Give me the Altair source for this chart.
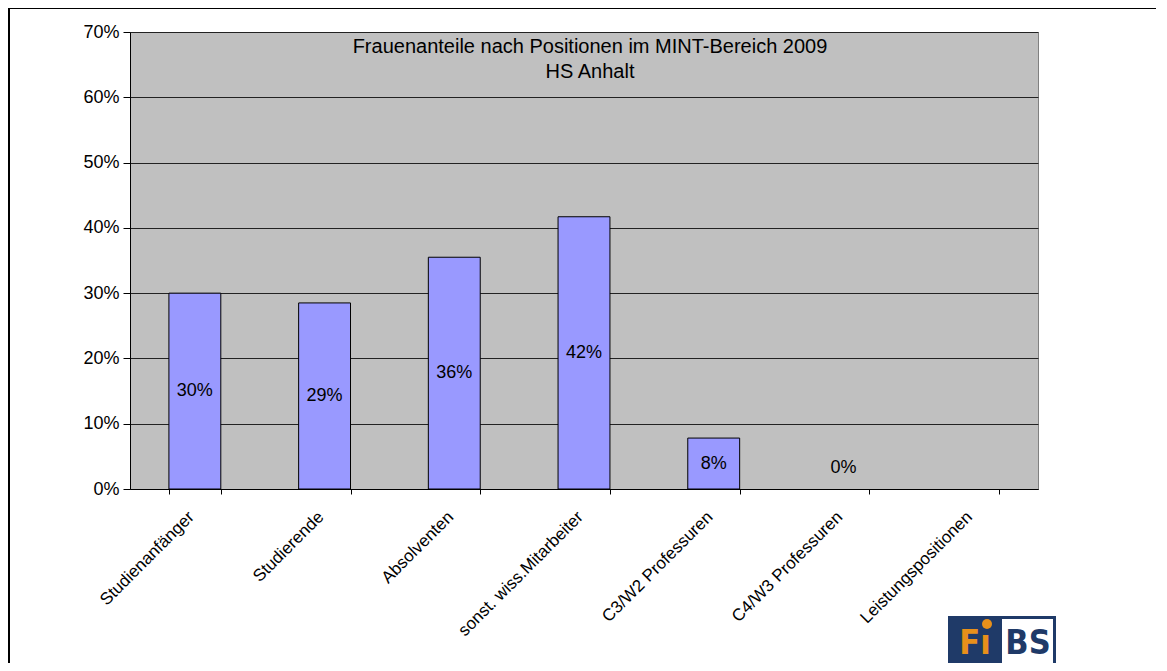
import altair as alt
import pandas as pd

categories = ["Studienanfänger", "Studierende", "Absolventen", "sonst. wiss.Mitarbeiter",
              "C3/W2 Professuren", "C4/W3 Professuren", "Leistungspositionen"]
values = [0.30, 0.285, 0.355, 0.417, 0.078, 0.0, None]
labels = ["30%", "29%", "36%", "42%", "8%", "0%", ""]
title_lines = ["Frauenanteile nach Positionen im MINT-Bereich 2009", "HS Anhalt"]

df = pd.DataFrame({"cat": categories, "v": values, "lab": labels})

W, H = 908, 457
FONT = "Liberation Sans"

xscale = alt.Scale(domain=categories, paddingInner=0.6, paddingOuter=0.3)
xenc = alt.X("cat:N", sort=categories, title=None, scale=xscale,
             axis=alt.Axis(labelAngle=-45, labelAlign="right", labelBaseline="middle",
                           labelPadding=20, labelOffset=-4, labelFontSize=17, labelFont=FONT,
                           labelColor="black", tickBand="extent", tickColor="black", tickSize=5,
                           domainColor="black", labelLimit=300))
yenc = alt.Y("v:Q", title=None, scale=alt.Scale(domain=[0, 0.7]),
             axis=alt.Axis(format=".0%", values=[0, 0.1, 0.2, 0.3, 0.4, 0.5, 0.6, 0.7],
                           labelFontSize=18, labelFont=FONT, labelColor="black",
                           tickColor="black", tickSize=7, labelPadding=4,
                           domainColor="black", grid=True, gridColor="#222222",
                           gridWidth=1))

base = alt.Chart(df)

bars = base.transform_filter("datum.v != null && datum.v > 0").mark_bar(
    color="#9999FF", stroke="black", strokeWidth=1).encode(x=xenc, y=yenc)

texts = base.transform_filter("datum.v != null").transform_calculate(
    mid="max(datum.v / 2, 0.032)").mark_text(
    font=FONT, fontSize=18, color="black").encode(
    x=alt.X("cat:N", sort=categories, scale=xscale), y=alt.Y("mid:Q"), text="lab:N")

tdf = pd.DataFrame({"t": ["\n".join(title_lines)]})
title = alt.Chart(tdf).mark_text(font=FONT, fontSize=20, color="black", baseline="middle",
                                 lineBreak="\n", lineHeight=25).encode(
    x=alt.value(W / 2 + 6), y=alt.value(15), text="t:N")

# outer frame (top + left)
frame_top = alt.Chart(pd.DataFrame({"a": [0]})).mark_rule(color="black", strokeWidth=2).encode(
    x=alt.value(-122), x2=alt.value(W + 140), y=alt.value(-24))
frame_left = alt.Chart(pd.DataFrame({"a": [0]})).mark_rule(color="black", strokeWidth=2).encode(
    x=alt.value(-121), y=alt.value(-25), y2=alt.value(H + 200))

# logo
NAVY = "#1F3A68"
ORANGE = "#E8901A"
logo_bg = alt.Chart(pd.DataFrame({"a": [0]})).mark_rect(color=NAVY).encode(
    x=alt.value(818), x2=alt.value(926), y=alt.value(584), y2=alt.value(631))
logo_box = alt.Chart(pd.DataFrame({"a": [0]})).mark_rect(color="white").encode(
    x=alt.value(872), x2=alt.value(923), y=alt.value(587), y2=alt.value(631))
logo_fi = alt.Chart(pd.DataFrame({"a": ["F\u0131"]})).mark_text(
    font="DejaVu Sans Condensed", fontWeight="bold", fontSize=34, color=ORANGE,
    align="center", baseline="middle").encode(
    x=alt.value(845), y=alt.value(612), text="a:N")
logo_dot = alt.Chart(pd.DataFrame({"a": [0]})).mark_point(
    filled=True, color=ORANGE, size=100, opacity=1).encode(
    x=alt.value(857), y=alt.value(592))
logo_bs = alt.Chart(pd.DataFrame({"a": ["BS"]})).mark_text(
    font="DejaVu Sans Condensed", fontWeight="bold", fontSize=34, color=NAVY,
    align="center", baseline="middle").encode(
    x=alt.value(898), y=alt.value(612), text="a:N")

chart = alt.layer(bars, texts, title, frame_top, frame_left,
                  logo_bg, logo_box, logo_fi, logo_dot, logo_bs).properties(
    width=W, height=H,
    autosize=alt.AutoSizeParams(type="none"),
    padding={"left": 122, "top": 24, "right": 118, "bottom": 174},
    background="white",
).configure_view(fill="#C0C0C0", stroke="#808080", strokeWidth=1)

chart.save("out.html", embed_options={"renderer": "svg", "actions": False})
